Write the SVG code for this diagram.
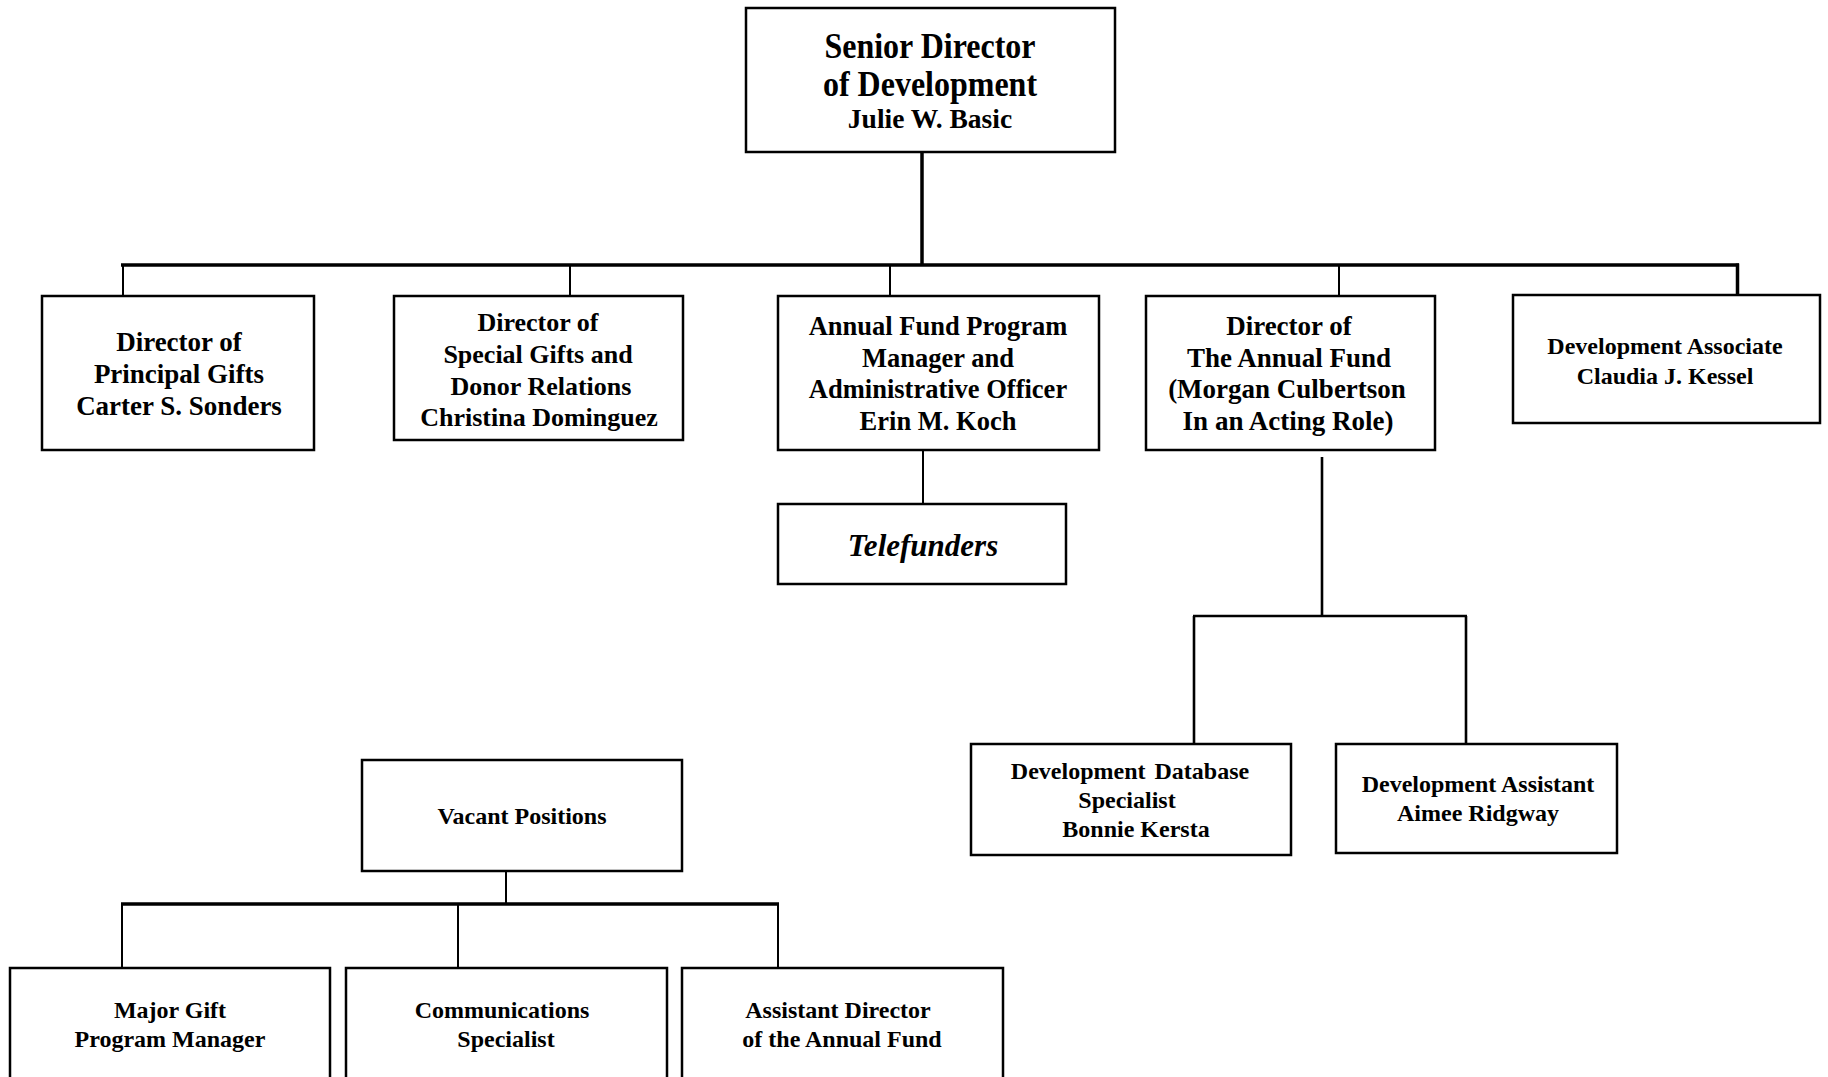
<svg xmlns="http://www.w3.org/2000/svg" width="1828" height="1077" viewBox="0 0 1828 1077">
<style>
  .box { fill: #ffffff; stroke: #000000; stroke-width: 2.5; }
  .t { font-family: "Liberation Serif", "Times New Roman", serif; font-weight: bold; fill: #000000; text-anchor: middle; }
  .ti { font-style: italic; }
  .bar { stroke: #000000; stroke-width: 3.5; fill: none; }
  .ln { stroke: #000000; stroke-width: 2; fill: none; }
  .ln2 { stroke: #000000; stroke-width: 2.6; fill: none; }
</style>
<rect width="1828" height="1077" fill="#ffffff"/>

<g id="connectors">
  <line class="bar" x1="922" y1="153" x2="922" y2="265"/>
  <line class="bar" x1="121" y1="265" x2="1739" y2="265"/>
  <line class="ln" x1="123" y1="265" x2="123" y2="296"/>
  <line class="ln" x1="570" y1="265" x2="570" y2="296"/>
  <line class="ln" x1="890" y1="265" x2="890" y2="296"/>
  <line class="ln" x1="1339" y1="265" x2="1339" y2="296"/>
  <line class="bar" x1="1737.5" y1="263.5" x2="1737.5" y2="295"/>
  <line class="ln" x1="923" y1="450" x2="923" y2="504"/>
  <line class="ln2" x1="1322" y1="457" x2="1322" y2="616"/>
  <line class="ln2" x1="1193" y1="616" x2="1467" y2="616"/>
  <line class="ln2" x1="1194" y1="616" x2="1194" y2="744"/>
  <line class="ln2" x1="1466" y1="616" x2="1466" y2="744"/>
  <line class="ln" x1="506" y1="871" x2="506" y2="904"/>
  <line class="bar" x1="121" y1="904" x2="779" y2="904"/>
  <line class="ln" x1="122" y1="904" x2="122" y2="968"/>
  <line class="ln" x1="458" y1="904" x2="458" y2="968"/>
  <line class="ln" x1="778" y1="904" x2="778" y2="968"/>
</g>

<g id="senior-director">
  <rect class="box" x="746" y="8" width="369" height="144"/>
  <text class="t" transform="translate(930,58) scale(1,1.1)" font-size="32">Senior Director</text>
  <text class="t" transform="translate(930,96) scale(1,1.1)" font-size="32">of Development</text>
  <text class="t" x="930" y="128" font-size="27.5">Julie W. Basic</text>
</g>

<g id="principal-gifts">
  <rect class="box" x="42" y="296" width="272" height="154"/>
  <text class="t" x="179" y="351" font-size="27">Director of</text>
  <text class="t" x="179" y="383" font-size="27">Principal Gifts</text>
  <text class="t" x="179" y="415" font-size="27">Carter S. Sonders</text>
</g>

<g id="special-gifts">
  <rect class="box" x="394" y="296" width="289" height="144"/>
  <text class="t" x="538" y="331" font-size="26">Director of</text>
  <text class="t" x="538" y="363" font-size="26">Special Gifts and</text>
  <text class="t" x="541" y="395" font-size="26">Donor Relations</text>
  <text class="t" x="539" y="426" font-size="26">Christina Dominguez</text>
</g>

<g id="annual-fund-manager">
  <rect class="box" x="778" y="296" width="321" height="154"/>
  <text class="t" x="938" y="335" font-size="26.5">Annual Fund Program</text>
  <text class="t" x="938" y="367" font-size="26.5">Manager and</text>
  <text class="t" x="938" y="398" font-size="26.5">Administrative Officer</text>
  <text class="t" x="938" y="430" font-size="26.5">Erin M. Koch</text>
</g>

<g id="director-annual-fund">
  <rect class="box" x="1146" y="296" width="289" height="154"/>
  <text class="t" x="1289" y="335" font-size="27">Director of</text>
  <text class="t" x="1289" y="367" font-size="27">The Annual Fund</text>
  <text class="t" x="1287" y="398" font-size="27">(Morgan Culbertson</text>
  <text class="t" x="1288" y="430" font-size="27">In an Acting Role)</text>
</g>

<g id="development-associate">
  <rect class="box" x="1513" y="295" width="307" height="128"/>
  <text class="t" x="1665" y="354" font-size="24">Development Associate</text>
  <text class="t" x="1665" y="384" font-size="24">Claudia J. Kessel</text>
</g>

<g id="telefunders">
  <rect class="box" x="778" y="504" width="288" height="80"/>
  <text class="t ti" x="923" y="556" font-size="31">Telefunders</text>
</g>

<g id="database-specialist">
  <rect class="box" x="971" y="744" width="320" height="111"/>
  <text class="t" x="1130" y="779" font-size="24" word-spacing="3">Development Database</text>
  <text class="t" x="1127" y="808" font-size="24">Specialist</text>
  <text class="t" x="1136" y="837" font-size="24">Bonnie Kersta</text>
</g>

<g id="development-assistant">
  <rect class="box" x="1336" y="744" width="281" height="109"/>
  <text class="t" x="1478" y="792" font-size="24">Development Assistant</text>
  <text class="t" x="1478" y="821" font-size="24">Aimee Ridgway</text>
</g>

<g id="vacant-positions">
  <rect class="box" x="362" y="760" width="320" height="111"/>
  <text class="t" x="522" y="824" font-size="24">Vacant Positions</text>
</g>

<g id="major-gift">
  <rect class="box" x="10" y="968" width="320" height="130"/>
  <text class="t" x="170" y="1018" font-size="24">Major Gift</text>
  <text class="t" x="170" y="1047" font-size="24">Program Manager</text>
</g>

<g id="communications">
  <rect class="box" x="346" y="968" width="321" height="130"/>
  <text class="t" x="502" y="1018" font-size="24">Communications</text>
  <text class="t" x="506" y="1047" font-size="24">Specialist</text>
</g>

<g id="assistant-director">
  <rect class="box" x="682" y="968" width="321" height="130"/>
  <text class="t" x="838" y="1018" font-size="24">Assistant Director</text>
  <text class="t" x="842" y="1047" font-size="24">of the Annual Fund</text>
</g>
</svg>
